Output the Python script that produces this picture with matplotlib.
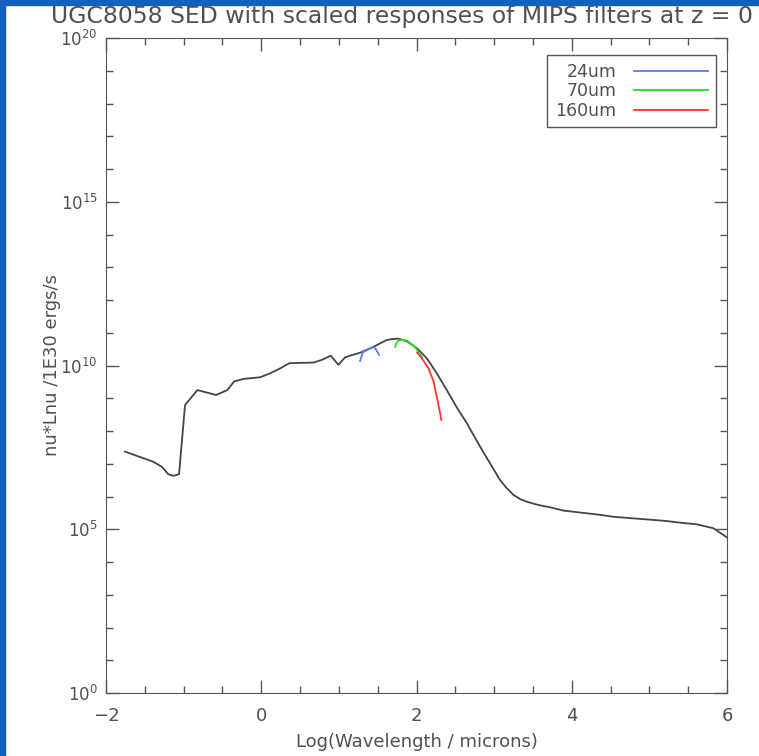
import numpy as np
import matplotlib
matplotlib.use('Agg')
import matplotlib.pyplot as plt
from matplotlib.patches import Rectangle
from matplotlib.ticker import FixedLocator, FuncFormatter, NullFormatter

# SED of UGC8058: log10(wavelength/micron), log10(nuLnu / 1E30 erg/s)
sed_logw = [-1.755, -1.390, -1.282, -1.197, -1.133, -1.059, -0.982, -0.823, -0.582,
            -0.437, -0.351, -0.231, -0.015, 0.113, 0.242, 0.362, 0.671, 0.780,
            0.896, 0.994, 1.080, 1.144, 1.273, 1.445, 1.617, 1.700, 1.767, 1.875,
            2.004, 2.133, 2.262, 2.390, 2.519, 2.648, 2.733, 2.820, 2.948, 3.077,
            3.164, 3.249, 3.335, 3.421, 3.571, 3.722, 3.893, 4.366, 4.537, 5.182,
            5.44, 5.612, 5.826, 5.999]
sed_logf = [7.37, 7.06, 6.91, 6.68, 6.63, 6.68, 8.79, 9.25, 9.10,
            9.25, 9.51, 9.59, 9.64, 9.76, 9.91, 10.07, 10.09, 10.17,
            10.30, 10.02, 10.25, 10.30, 10.39, 10.57, 10.78, 10.81, 10.82, 10.74,
            10.53, 10.22, 9.76, 9.25, 8.72, 8.24, 7.88, 7.52, 7.01, 6.50,
            6.25, 6.05, 5.92, 5.84, 5.74, 5.67, 5.57, 5.44, 5.38, 5.26,
            5.19, 5.15, 5.03, 4.75]

# MIPS filter responses scaled onto the SED
mips24_logw = [1.273, 1.31, 1.37, 1.445, 1.47, 1.52]
mips24_logf = [10.14, 10.41, 10.48, 10.57, 10.52, 10.32]
mips70_logw = [1.724, 1.745, 1.767, 1.82, 1.875, 1.98, 2.07]
mips70_logf = [10.57, 10.70, 10.76, 10.78, 10.76, 10.57, 10.25]
mips160_logw = [2.01, 2.07, 2.155, 2.22, 2.27, 2.30, 2.32]
mips160_logf = [10.39, 10.22, 9.91, 9.51, 8.95, 8.59, 8.34]

labels = ['24um', '70um', '160um']
colors = ['#5080ee', '#22dd22', '#ff3333']

fig = plt.figure(figsize=(7.59, 7.56), dpi=100)
ax = fig.add_axes([106/759, 1-693/756, (727-106)/759, (693-38)/756])

txt = '#505050'
ax.plot(sed_logw, 10**np.array(sed_logf), color='#444444', lw=1.3)
ax.plot(mips24_logw, 10**np.array(mips24_logf), color=colors[0], lw=1.3, label=labels[0])
ax.plot(mips70_logw, 10**np.array(mips70_logf), color=colors[1], lw=1.3, label=labels[1])
ax.plot(mips160_logw, 10**np.array(mips160_logf), color=colors[2], lw=1.3, label=labels[2])

ax.set_yscale('log')
ax.set_xlim(-2, 6)
ax.set_ylim(1, 1e20)
ax.xaxis.set_major_locator(FixedLocator([-2, 0, 2, 4, 6]))
ax.xaxis.set_minor_locator(FixedLocator([v for v in np.arange(-2, 6.01, 0.5) if v % 2 != 0]))
ax.yaxis.set_major_locator(FixedLocator([1, 1e5, 1e10, 1e15, 1e20]))
ax.yaxis.set_minor_locator(FixedLocator([10.0**k for k in range(21) if k % 5 != 0]))
ax.yaxis.set_major_formatter(FuncFormatter(lambda v, p: r'$10^{%d}$' % round(np.log10(v))))
ax.yaxis.set_minor_formatter(NullFormatter())
ax.xaxis.set_major_formatter(FuncFormatter(lambda v, p: '%d' % v if v >= 0 else '\u2212%d' % -v))

ax.tick_params(which='both', direction='in', top=True, right=True, colors='#555555',
               labelcolor=txt, labelsize=13)
ax.tick_params(axis='y', labelsize=12, pad=6)
ax.tick_params(which='major', length=9.5, width=1)
ax.tick_params(which='minor', length=5, width=1)
ax.tick_params(axis='x', pad=10)
for s in ax.spines.values():
    s.set_color('#555555')

ax.set_xlabel('Log(Wavelength / microns)', fontsize=13, color=txt, labelpad=6)
ax.set_ylabel('nu*Lnu /1E30 ergs/s', fontsize=13, color=txt, va='center')
ax.yaxis.set_label_coords((52-106)/621, 0.5)
fig.text(753/759, 1-16/756, 'UGC8058 SED with scaled responses of MIPS filters at z = 0',
         ha='right', va='center', fontsize=16.9, color=txt)

leg = ax.legend(loc='upper right', markerfirst=False, fontsize=12.5,
                handlelength=4.3, fancybox=False, edgecolor='#555555', framealpha=1,
                labelspacing=0.08, borderpad=0.45, handletextpad=1.0, borderaxespad=0)
leg.set_bbox_to_anchor((716/759, 1-55/756), transform=fig.transFigure)
for t in leg.get_texts():
    t.set_color(txt)
leg.get_frame().set_linewidth(1)

# blue frame strips on left and top edge of the screenshot
fig.patches.append(Rectangle((0, 0), 5/759, 1, transform=fig.transFigure,
                             color='#1560bd', zorder=10))
fig.patches.append(Rectangle((0, 1-5/756), 1, 5/756, transform=fig.transFigure,
                             color='#1560bd', zorder=10))

fig.savefig('out.png', dpi=100)
